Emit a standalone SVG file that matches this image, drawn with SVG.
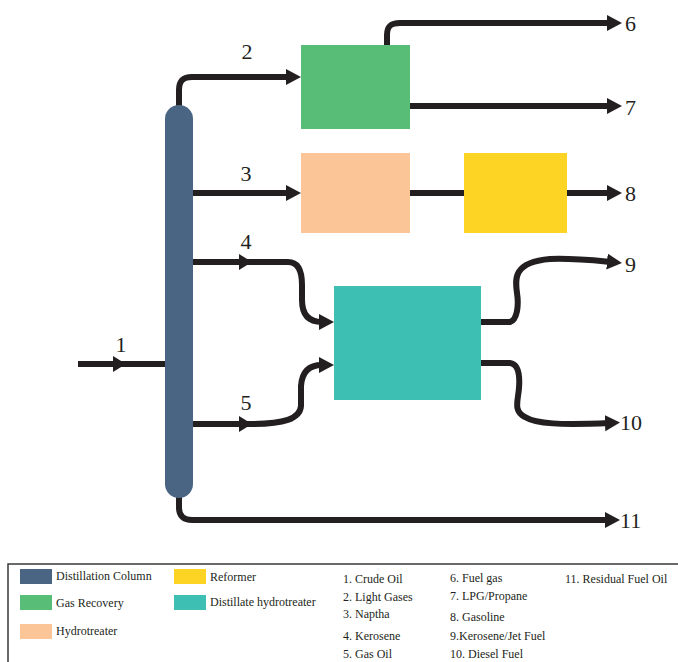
<svg xmlns="http://www.w3.org/2000/svg" width="678" height="662" viewBox="0 0 678 662">
<style>
.ln{fill:none;stroke:#231f20;stroke-width:6;stroke-linejoin:round}
.tri{fill:#231f20}
.num{font-family:"Liberation Serif","Times New Roman",serif;font-size:22px;fill:#231f20}
.lg{font-family:"Liberation Serif","Times New Roman",serif;font-size:12px;fill:#231f20}
</style>
<defs>
<marker id="arr" markerUnits="userSpaceOnUse" markerWidth="16" markerHeight="17" refX="5" refY="8" orient="auto">
<path d="M0,0 L15,8 L0,16 Z" fill="#231f20"/>
</marker>
</defs>
<rect width="678" height="662" fill="#ffffff"/>
<g id="connectors">
<path class="ln" d="M78,364 H165"/>
<polygon class="tri" points="113,356 126,364 113,372"/>
<path class="ln" marker-end="url(#arr)" d="M179,110 V90 C179,81 183,77 192,77 H291"/>
<path class="ln" marker-end="url(#arr)" d="M387,46 V35 C387,26 391,23 400,23 H612"/>
<path class="ln" marker-end="url(#arr)" d="M410,106 H612"/>
<path class="ln" marker-end="url(#arr)" d="M193,193 H291"/>
<path class="ln" d="M410,193 H464"/>
<path class="ln" marker-end="url(#arr)" d="M567,193 H612"/>
<path class="ln" marker-end="url(#arr)" d="M193,262 H288 C299,262 302,272 302,285 V300 C302,316 310,322 322,322 H324"/>
<polygon class="tri" points="239,254 252,262 239,270"/>
<path class="ln" marker-end="url(#arr)" d="M193,424 H250 C284,424 300,419 301,406 V386 C302,371 310,365 322,365 H324"/>
<polygon class="tri" points="239,416 252,424 239,432"/>
<path class="ln" marker-end="url(#arr)" d="M481,322 H510 C517,320 519,306 517,293 C515,279 513,262 550,259 C570,258 590,260 612,262"/>
<path class="ln" marker-end="url(#arr)" d="M481,363 H510 C518,364 520,375 519,388 C518,401 513,411 525,417 C536,424 560,425 610,423"/>
<path class="ln" marker-end="url(#arr)" d="M179,494 V508 C179,516 184,520 192,520 H610"/>
</g>
<g id="column"><rect x="165" y="105" width="28" height="393" rx="14" fill="#4a6584"/></g>
<g id="gas-recovery"><rect x="301" y="45" width="109" height="84" fill="#58bd77"/></g>
<g id="hydrotreater"><rect x="301" y="153" width="109" height="80" fill="#fbc597"/></g>
<g id="reformer"><rect x="464" y="153" width="103" height="80" fill="#fdd324"/></g>
<g id="distillate-hydrotreater"><rect x="334" y="286" width="147" height="114" fill="#3ebfb3"/></g>
<g id="labels">
<text class="num" x="121" y="352" text-anchor="middle">1</text>
<text class="num" x="247" y="59" text-anchor="middle">2</text>
<text class="num" x="246" y="181" text-anchor="middle">3</text>
<text class="num" x="246" y="249" text-anchor="middle">4</text>
<text class="num" x="246" y="410" text-anchor="middle">5</text>
<text class="num" x="625" y="31">6</text>
<text class="num" x="625" y="115">7</text>
<text class="num" x="625" y="201">8</text>
<text class="num" x="625" y="272">9</text>
<text class="num" x="620" y="430">10</text>
<text class="num" x="620" y="528">11</text>
</g>
<g id="legend">
<rect x="8" y="564" width="690" height="120" fill="none" stroke="#3a3a3a" stroke-width="1.5"/>
<rect x="20" y="569" width="32" height="15" fill="#4a6584"/>
<text class="lg" x="56" y="580">Distillation Column</text>
<rect x="20" y="595" width="32" height="15" fill="#58bd77"/>
<text class="lg" x="56" y="607">Gas Recovery</text>
<rect x="20" y="624" width="32" height="15" fill="#fbc597"/>
<text class="lg" x="56" y="635">Hydrotreater</text>
<rect x="174" y="569" width="32" height="15" fill="#fdd324"/>
<text class="lg" x="210" y="581">Reformer</text>
<rect x="174" y="595" width="32" height="15" fill="#3ebfb3"/>
<text class="lg" x="210" y="606">Distillate hydrotreater</text>
<text class="lg" x="343" y="583">1. Crude Oil</text>
<text class="lg" x="343" y="601">2. Light Gases</text>
<text class="lg" x="343" y="618">3. Naptha</text>
<text class="lg" x="343" y="640">4. Kerosene</text>
<text class="lg" x="343" y="658">5. Gas Oil</text>
<text class="lg" x="450" y="582">6. Fuel gas</text>
<text class="lg" x="450" y="600">7. LPG/Propane</text>
<text class="lg" x="450" y="621">8. Gasoline</text>
<text class="lg" x="450" y="640">9.Kerosene/Jet Fuel</text>
<text class="lg" x="450" y="658">10. Diesel Fuel</text>
<text class="lg" x="565" y="583">11. Residual Fuel Oil</text>
</g>
</svg>
